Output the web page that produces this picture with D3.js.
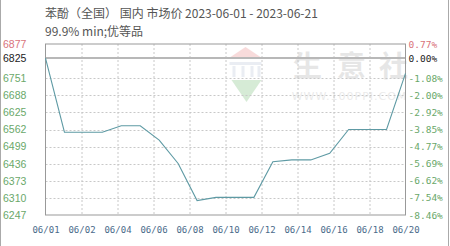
<!DOCTYPE html>
<html>
<head>
<meta charset="utf-8">
<script src="https://cdn.jsdelivr.net/npm/d3@7"></script>
<style>
  html, body { margin: 0; padding: 0; background: #fff; }
  svg { display: block; }
</style>
</head>
<body>
<svg id="chart"></svg>
<script>
// 데이터
const dates = ["06/01","06/02","06/03","06/04","06/05","06/06","06/07","06/08","06/09","06/10",
               "06/11","06/12","06/13","06/14","06/15","06/16","06/17","06/18","06/19","06/20"];
const prices = [6825, 6552, 6552, 6552, 6576, 6576, 6523, 6437, 6300, 6312,
                6312, 6312, 6443, 6450, 6450, 6474, 6562, 6562, 6562, 6769];
const basePrice = 6825;
const leftTicks = [6877, 6825, 6751, 6688, 6625, 6562, 6499, 6436, 6373, 6310, 6247];
const rightTicks = ["0.77%","0.00%","-1.08%","-2.00%","-2.92%","-3.85%","-4.77%","-5.69%","-6.62%","-7.54%","-8.46%"];
const titleLines = ["苯酚（全国） 国内 市场价 2023-06-01 - 2023-06-21", "99.9% min;优等品"];

const W = 450, H = 246;
const MARGIN = {TOP:44, BOTTOM:31, LEFT:45.5, RIGHT:44.5};
const plotW = W - MARGIN.LEFT - MARGIN.RIGHT;
const plotH = H - MARGIN.TOP - MARGIN.BOTTOM;

const COLOR_UP = "#d9737b", COLOR_DOWN = "#6aa86a", COLOR_BASE = "#222";
const tickColor = (v) => v > basePrice ? COLOR_UP : (v < basePrice ? COLOR_DOWN : COLOR_BASE);

const svg = d3.select("#chart").attr("width", W).attr("height", H);

// 바깥 테두리 (좌/우)
svg.append("line").attr("x1",0.5).attr("x2",0.5).attr("y1",0).attr("y2",H).attr("stroke","#aaa");
svg.append("line").attr("x1",W-1.5).attr("x2",W-1.5).attr("y1",0).attr("y2",H).attr("stroke","#aaa");

// 제목
svg.selectAll("text.title")
  .data(titleLines)
  .join("text")
  .attr("class","title")
  .attr("x", 45)
  .attr("y", (d,i) => 18 + i*17.5)
  .attr("font-family", "'Noto Sans CJK SC', 'DejaVu Sans', sans-serif")
  .attr("font-size", "12px")
  .attr("fill", "#555")
  .text(d => d);

const g = svg.append("g").attr("transform", `translate(${MARGIN.LEFT},${MARGIN.TOP})`);

// 스케일
const xScale = d3.scaleLinear().domain([0, dates.length - 1]).range([0, plotW]);
const yScale = d3.scaleLinear().domain([d3.min(leftTicks), d3.max(leftTicks)]).range([plotH, 0]);
const xTickVals = d3.range(11).map(i => i * (dates.length - 1) / 10);

// 워터마크
const wm = g.append("g").attr("opacity", 0.2);
wm.append("path").attr("d","M185,13 L200,3 L215,13 L211,15 L189,15 Z").attr("fill","#e05050");
wm.append("rect").attr("x",184).attr("y",18).attr("width",32).attr("height",3).attr("fill","#9aa8c8");
[187,196,205,212].forEach(x => wm.append("rect").attr("x",x).attr("y",22).attr("width",3).attr("height",11).attr("fill","#9aa8c8"));
wm.append("path").attr("d","M186,36 L216,36 L201,58 Z").attr("fill","#3aa03a");
[["生",262],["意",306],["社",348]].forEach(([ch,x]) =>
  wm.append("text").attr("x",x).attr("y",33).attr("text-anchor","middle")
    .attr("font-family","'Noto Sans CJK SC', sans-serif").attr("font-size","29px").attr("font-weight","bold")
    .attr("fill","#888").text(ch));
wm.append("text").attr("x",304).attr("y",56).attr("text-anchor","middle")
  .attr("font-family","'DejaVu Sans', sans-serif").attr("font-size","11px")
  .attr("fill","#999").attr("letter-spacing","1px").text("WWW.100PPI.COM");

// 그리드 (가로)
g.selectAll("line.hgrid")
  .data(leftTicks.filter(v => v !== basePrice && v !== d3.max(leftTicks) && v !== d3.min(leftTicks)))
  .join("line")
  .attr("class","hgrid")
  .attr("x1",0).attr("x2",plotW)
  .attr("y1", d => Math.round(yScale(d)) + 0.5).attr("y2", d => Math.round(yScale(d)) + 0.5)
  .attr("stroke","#c8c8c8").attr("stroke-dasharray","2,2");

// 그리드 (세로)
g.selectAll("line.vgrid")
  .data(xTickVals.slice(1, -1))
  .join("line")
  .attr("class","vgrid")
  .attr("x1", d => Math.round(xScale(d)) + 0.5).attr("x2", d => Math.round(xScale(d)) + 0.5)
  .attr("y1",0).attr("y2",plotH)
  .attr("stroke","#c8c8c8").attr("stroke-dasharray","2,2");

// 기준선
g.append("line")
  .attr("x1",0).attr("x2",plotW)
  .attr("y1", yScale(basePrice)).attr("y2", yScale(basePrice))
  .attr("stroke","#b8b8b8").attr("stroke-width",2);

// 테두리
g.append("rect").attr("x",0).attr("y",0).attr("width",plotW).attr("height",plotH)
  .attr("fill","none").attr("stroke","#999");

// 라인
const valueline = d3.line()
  .x((d,i) => xScale(i))
  .y(d => yScale(d));
g.append("path")
  .datum(prices)
  .attr("d", valueline)
  .attr("fill","none")
  .attr("stroke","#5e9aa4")
  .attr("stroke-width",1.1);

// 왼쪽 축
const yAxisL = g.append("g")
  .call(d3.axisLeft(yScale).tickValues(leftTicks).tickSize(0).tickFormat(d3.format("d")));
yAxisL.select(".domain").remove();
yAxisL.selectAll("text")
  .attr("x", -MARGIN.LEFT + 3)
  .attr("text-anchor","start")
  .attr("font-family","'Liberation Sans', Arial, sans-serif")
  .attr("font-size","10.5px")
  .attr("fill", d => tickColor(d));

// 오른쪽 축
const yAxisR = g.append("g")
  .attr("transform", `translate(${plotW},0)`)
  .call(d3.axisRight(yScale).tickValues(leftTicks).tickSize(0).tickFormat((d,i) => rightTicks[i]));
yAxisR.select(".domain").remove();
yAxisR.selectAll("text")
  .attr("x", 3)
  .attr("font-family","'DejaVu Sans Mono', monospace")
  .attr("font-size","9.5px")
  .attr("fill", d => tickColor(d));

// X 축
const xAxis = g.append("g")
  .attr("transform", `translate(0,${plotH})`)
  .call(d3.axisBottom(xScale).tickValues(xTickVals).tickSize(0)
    .tickFormat(d => dates[Math.floor(d + 1e-6)]));
xAxis.select(".domain").remove();
xAxis.selectAll("text")
  .attr("y", 12)
  .attr("font-family","'DejaVu Sans Mono', monospace")
  .attr("font-size","9px")
  .attr("fill","#4a6a8a");
</script>
</body>
</html>
